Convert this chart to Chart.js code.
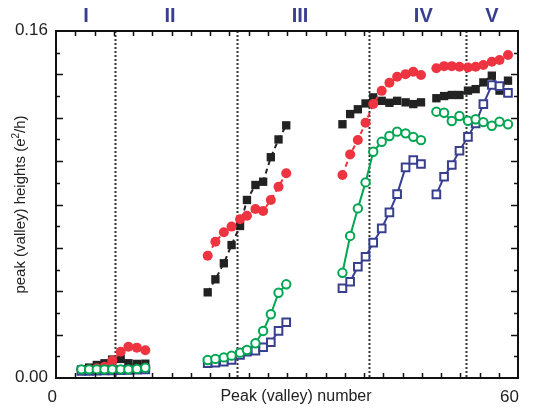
<!DOCTYPE html>
<html>
<head>
<meta charset="utf-8">
<script src="https://cdn.jsdelivr.net/npm/chart.js@4.4.1/dist/chart.umd.min.js"></script>
<style>
    html, body { margin: 0; padding: 0; background: #fff; }
    #wrap { width: 535px; height: 414px; }
</style>
</head>
<body>
<div id="wrap"><canvas id="chart" width="535" height="414"></canvas></div>
<script>
// peak (valley) numbers for each region
const xI = [3.3, 4.3, 5.3, 6.3, 7.3, 8.4, 9.4, 10.5, 11.6];
const xII = [19.7, 20.7, 21.8, 22.8, 23.9, 24.8, 25.9, 26.9, 27.9, 28.9, 29.9];
const xIII = [37.2, 38.2, 39.2, 40.2, 41.2, 42.3, 43.3, 44.3, 45.4, 46.4, 47.4];
const xIV = [49.4, 50.4, 51.4, 52.4, 53.5, 54.5, 55.5, 56.6, 57.6, 58.7];
const groupX = [xI, xII, xIII, xIV];

// heights, one list per region
const redVals = [
    [0.0037, 0.0037, 0.0045, 0.0052, 0.0080, 0.0121, 0.0144, 0.0140, 0.0128],
    [0.0564, 0.0628, 0.0672, 0.0698, 0.0732, 0.0748, 0.0779, 0.0770, 0.0821, 0.0882, 0.0944],
    [0.0936, 0.1031, 0.1097, 0.1177, 0.1263, 0.1324, 0.1361, 0.1389, 0.1401, 0.1412, 0.1397],
    [0.1428, 0.1438, 0.1438, 0.1435, 0.1432, 0.1435, 0.1443, 0.1458, 0.1466, 0.1489]
];
const blackVals = [
    [0.0040, 0.0048, 0.0060, 0.0068, 0.0085, 0.0088, 0.0068, 0.0065, 0.0066],
    [0.0395, 0.0455, 0.0529, 0.0613, 0.0701, 0.0821, 0.0890, 0.0905, 0.1018, 0.1100, 0.1165],
    [0.1170, 0.1217, 0.1239, 0.1266, 0.1294, 0.1278, 0.1269, 0.1278, 0.1271, 0.1263, 0.1271],
    [0.1290, 0.1300, 0.1305, 0.1305, 0.1325, 0.1332, 0.1363, 0.1394, 0.1325, 0.1371]
];
const greenVals = [
    [0.0040, 0.0040, 0.0040, 0.0040, 0.0040, 0.0040, 0.0040, 0.0042, 0.0047],
    [0.0083, 0.0088, 0.0095, 0.0103, 0.0117, 0.0129, 0.0160, 0.0217, 0.0294, 0.0393, 0.0432],
    [0.0485, 0.0655, 0.0782, 0.0902, 0.1043, 0.1089, 0.1116, 0.1136, 0.1128, 0.1112, 0.1097],
    [0.1228, 0.1223, 0.1185, 0.1208, 0.1186, 0.1193, 0.1180, 0.1163, 0.1182, 0.1170]
];
const blueVals = [
    [0.0033, 0.0033, 0.0034, 0.0035, 0.0035, 0.0036, 0.0037, 0.0038, 0.0040],
    [0.0068, 0.0071, 0.0075, 0.0083, 0.0106, 0.0121, 0.0126, 0.0142, 0.0165, 0.0217, 0.0257],
    [0.0414, 0.0444, 0.0513, 0.0559, 0.0624, 0.0690, 0.0764, 0.0848, 0.0971, 0.1005, 0.0987],
    [0.0847, 0.0928, 0.0982, 0.1048, 0.1112, 0.1174, 0.1263, 0.1351, 0.1346, 0.1315]
];

// region boundaries and labels
const boundaries = [7.6, 23.5, 40.6, 53.3];
const regionNames = ['I', 'II', 'III', 'IV', 'V'];
const regionNameX = [3.9, 14.8, 31.7, 47.7, 56.6];

const xTickLabels = [0, 60];
const yTickLabels = [0, 0.16];

const blue = '#383f8e';
const font = '"Liberation Sans", Arial, Helvetica, sans-serif';

// join the regions into one list, with a gap so lines don't connect regions
function toPoints(groups) {
    const pts = [];
    groups.forEach((vals, g) => {
        if (g > 0) pts.push({ x: groupX[g][0] - 0.5, y: null });
        vals.forEach((v, i) => pts.push({ x: groupX[g][i], y: v }));
    });
    return pts;
}

// frame, inward ticks, dotted lines and all the text
const decorPlugin = {
    id: 'decor',
    beforeDatasetsDraw(chart) {
        const { ctx, chartArea: a, scales: { x } } = chart;
        ctx.save();
        ctx.strokeStyle = '#333';
        ctx.lineWidth = 2;
        ctx.setLineDash([2, 2]);
        boundaries.forEach(b => {
            const px = Math.round(x.getPixelForValue(b)) + 0.5;
            ctx.beginPath();
            ctx.moveTo(px, a.top);
            ctx.lineTo(px, a.bottom);
            ctx.stroke();
        });
        ctx.restore();
    },
    afterDraw(chart) {
        const { ctx, chartArea: a, scales: { x, y } } = chart;
        ctx.save();
        ctx.strokeStyle = '#111';
        ctx.lineWidth = 2;
        ctx.strokeRect(a.left, a.top, a.right - a.left, a.bottom - a.top);

        ctx.lineWidth = 1.5;
        ctx.beginPath();
        for (let v = 2.5; v < 60; v += 2.5) {
            const px = Math.round(x.getPixelForValue(v)) + 0.5;
            ctx.moveTo(px, a.bottom); ctx.lineTo(px, a.bottom - 5);
            ctx.moveTo(px, a.top); ctx.lineTo(px, a.top + 5);
        }
        for (let i = 1; i < 16; i++) {
            const py = Math.round(y.getPixelForValue(i * 0.01)) + 0.5;
            const len = i % 2 === 0 ? 7 : 4;
            ctx.moveTo(a.left, py); ctx.lineTo(a.left + len, py);
            ctx.moveTo(a.right, py); ctx.lineTo(a.right - len, py);
        }
        ctx.stroke();

        ctx.fillStyle = '#222';
        ctx.font = '17px ' + font;
        ctx.textAlign = 'right';
        ctx.textBaseline = 'middle';
        yTickLabels.forEach(v => {
            ctx.fillText(v.toFixed(2), a.left - 8, y.getPixelForValue(v) - 1);
        });
        ctx.textBaseline = 'alphabetic';
        xTickLabels.forEach(v => {
            ctx.fillText(String(v), x.getPixelForValue(v) + 1, 402);
        });

        ctx.font = '16px ' + font;
        ctx.textAlign = 'center';
        ctx.fillText('Peak (valley) number', (a.left + a.right) / 2 + 9, 401);

        // rotated y title with superscript
        ctx.translate(25, (a.top + a.bottom) / 2);
        ctx.rotate(-Math.PI / 2);
        const t1 = 'peak (valley) heights (e';
        const t2 = '2';
        const t3 = '/h)';
        ctx.font = '15px ' + font;
        const w1 = ctx.measureText(t1).width;
        const w3 = ctx.measureText(t3).width;
        ctx.font = '10px ' + font;
        const w2 = ctx.measureText(t2).width;
        let cx = -(w1 + w2 + w3) / 2;
        ctx.textAlign = 'left';
        ctx.font = '15px ' + font;
        ctx.fillText(t1, cx, 0);
        cx += w1;
        ctx.font = '10px ' + font;
        ctx.fillText(t2, cx, -6);
        cx += w2;
        ctx.font = '15px ' + font;
        ctx.fillText(t3, cx, 0);
        ctx.setTransform(1, 0, 0, 1, 0, 0);

        ctx.fillStyle = blue;
        ctx.font = 'bold 20px ' + font;
        ctx.textAlign = 'center';
        ctx.textBaseline = 'middle';
        regionNames.forEach((n, i) => {
            ctx.fillText(n, x.getPixelForValue(regionNameX[i]), 16);
        });
        ctx.restore();
    }
};

const ctx = document.getElementById('chart').getContext('2d');
new Chart(ctx, {
    type: 'line',
    data: {
        datasets: [
            {
                label: 'green',
                data: toPoints(greenVals),
                borderColor: '#00a651',
                borderWidth: 2,
                pointStyle: 'circle',
                pointRadius: 4.2,
                pointBorderWidth: 2,
                pointBackgroundColor: '#fff',
                pointBorderColor: '#00a651'
            },
            {
                label: 'blue',
                data: toPoints(blueVals),
                borderColor: blue,
                borderWidth: 2,
                pointStyle: 'rect',
                pointRadius: 5.4,
                pointBorderWidth: 2,
                pointBackgroundColor: '#fff',
                pointBorderColor: blue
            },
            {
                label: 'red',
                data: toPoints(redVals),
                borderColor: '#ee3441',
                borderWidth: 2,
                borderDash: [5, 4],
                pointStyle: 'circle',
                pointRadius: 5,
                pointBorderWidth: 0,
                pointBackgroundColor: '#ee3441',
                pointBorderColor: '#ee3441'
            },
            {
                label: 'black',
                data: toPoints(blackVals),
                borderColor: '#222',
                borderWidth: 2,
                borderDash: [5, 4],
                pointStyle: 'rect',
                pointRadius: 5.9,
                pointBorderWidth: 0,
                pointBackgroundColor: '#222',
                pointBorderColor: '#222'
            }
        ]
    },
    options: {
        responsive: false,
        animation: false,
        spanGaps: false,
        clip: false,
        layout: { padding: { left: 56, right: 17, top: 31, bottom: 36 } },
        plugins: {
            legend: { display: false },
            tooltip: { enabled: false }
        },
        scales: {
            x: { type: 'linear', min: 0, max: 60, display: false },
            y: { type: 'linear', min: 0, max: 0.16, display: false }
        }
    },
    plugins: [decorPlugin]
});
</script>
</body>
</html>
